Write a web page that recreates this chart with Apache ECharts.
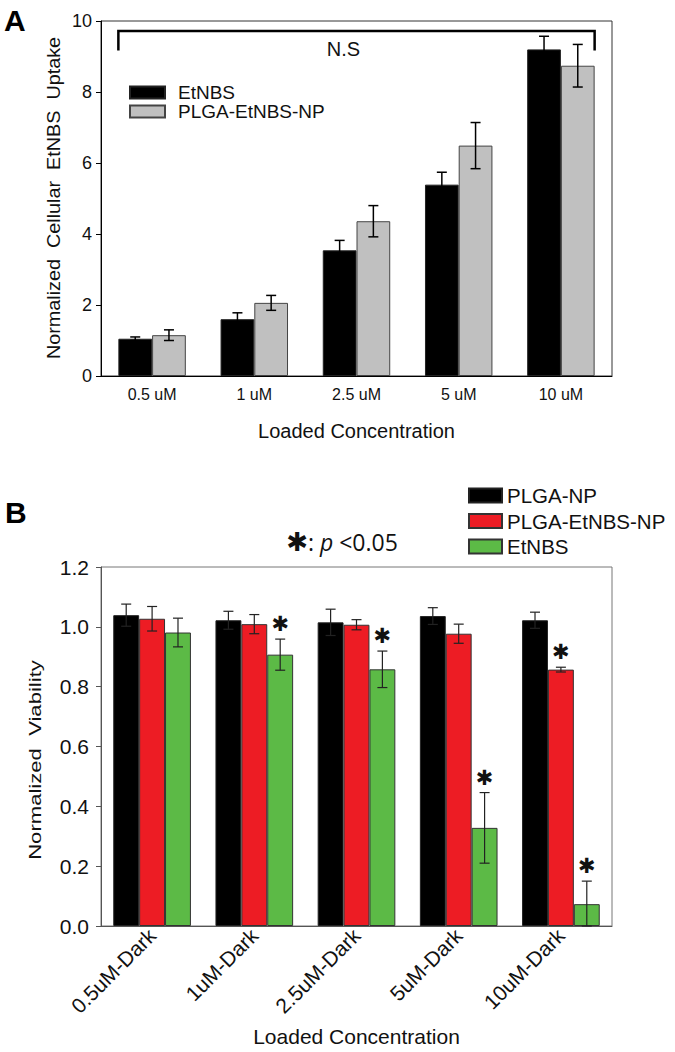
<!DOCTYPE html>
<html>
<head>
<meta charset="utf-8">
<script src="https://cdn.jsdelivr.net/npm/echarts@6/dist/echarts.min.js"></script>
<style>
  html, body { margin: 0; padding: 0; background: #fff; }
  #chartA { position: absolute; left: 0; top: 0; width: 675px; height: 470px; }
  #chartB { position: absolute; left: 0; top: 470px; width: 675px; height: 582px; }
</style>
</head>
<body>
<div id="chartA"></div>
<div id="chartB"></div>
<script>
// panel A data
const catsA = ['0.5 uM', '1 uM', '2.5 uM', '5 uM', '10 uM'];
const etnbsA = [1.05, 1.6, 3.54, 5.39, 9.2];
const etnbsAErr = [0.05, 0.18, 0.28, 0.35, 0.37];
const plgaA = [1.15, 2.06, 4.36, 6.49, 8.74];
const plgaAErr = [0.15, 0.21, 0.44, 0.65, 0.6];
// N.S bracket: from category, to category, line level, end level
const nsBracket = [0, 4, 9.72, 9.17];

// panel B data
const catsB = ['0.5uM-Dark', '1uM-Dark', '2.5uM-Dark', '5uM-Dark', '10uM-Dark'];
const plgaNP = [1.039, 1.022, 1.015, 1.036, 1.022];
const plgaNPErr = [0.037, 0.03, 0.044, 0.028, 0.027];
const plgaEtB = [1.027, 1.009, 1.007, 0.977, 0.857];
const plgaEtBErr = [0.041, 0.032, 0.017, 0.032, 0.008];
const etnbsB = [0.981, 0.907, 0.858, 0.328, 0.073];
const etnbsBErr = [0.048, 0.052, 0.061, 0.118, 0.077];
const plgaEtBStar = [0, 0, 0, 0, 1];
const etnbsBStar = [0, 1, 1, 1, 1];

const FONT = 'Liberation Sans, Arial, sans-serif';

// error bar (and optional star) drawn over the k-th bar of n in each category
function errRender(k, n, gap, color, capHalf, lw) {
  return function (params, api) {
    const cat = api.value(0), v = api.value(1), e = api.value(2), star = api.value(3);
    const catW = api.size([1, 0])[0];
    const barW = catW * (1 - gap) / n;
    const base = api.coord([cat, v]);
    const x = base[0] - barW * n / 2 + barW * (k + 0.5);
    const yHi = api.coord([cat, v + e])[1];
    const yLo = api.coord([cat, Math.max(v - e, 0)])[1];
    const st = { stroke: color, lineWidth: lw };
    const children = [
      { type: 'line', shape: { x1: x, y1: yHi, x2: x, y2: yLo }, style: st },
      { type: 'line', shape: { x1: x - capHalf, y1: yHi, x2: x + capHalf, y2: yHi }, style: st },
      { type: 'line', shape: { x1: x - capHalf, y1: yLo, x2: x + capHalf, y2: yLo }, style: st }
    ];
    if (star) {
      children.push({
        type: 'text', x: x, y: yHi - 15,
        style: { text: '✱', font: 'bold 21px DejaVu Sans', fill: '#111', align: 'center', verticalAlign: 'middle' }
      });
    }
    return { type: 'group', children: children };
  };
}

function errData(vals, errs, stars) {
  return vals.map((v, i) => [i, v, errs[i], stars ? stars[i] : 0]);
}

// rotated axis title, stretched along its length like the original figure
function yTitle(text, x, y, size, stretch) {
  return {
    type: 'text', x: x, y: y, rotation: Math.PI / 2, scaleX: stretch,
    style: { text: text, font: size + 'px ' + FONT, fill: '#111', align: 'center', verticalAlign: 'middle' }
  };
}

// ---------------- panel A ----------------
const gapA = 0.34;
const chartA = echarts.init(document.getElementById('chartA'), null, { renderer: 'svg' });
chartA.setOption({
  animation: false,
  textStyle: { fontFamily: FONT },
  grid: { left: 101, top: 21, width: 511, height: 355, show: true, borderColor: '#333', borderWidth: 1 },
  legend: {
    orient: 'vertical', left: 129, top: 83, padding: 0, itemWidth: 35, itemHeight: 12, itemGap: 0,
    icon: 'rect',
    textStyle: { fontSize: 19, lineHeight: 19, color: '#111', padding: [0, 0, 0, 8] },
    data: ['EtNBS', 'PLGA-EtNBS-NP']
  },
  graphic: [
    { type: 'text', left: 4, top: 5, style: { text: 'A', font: 'bold 30px ' + FONT, fill: '#000' } },
    yTitle('Normalized  Cellular  EtNBS  Uptake', 54, 198, 18, 1.1)
  ],
  xAxis: {
    type: 'category', data: catsA,
    axisLine: { lineStyle: { color: '#000' } },
    axisTick: { alignWithLabel: true, length: 5, lineStyle: { color: '#000' } },
    axisLabel: { fontSize: 16, color: '#111', margin: 10 },
    name: 'Loaded Concentration', nameLocation: 'middle', nameGap: 45,
    nameTextStyle: { fontSize: 20, color: '#111' }
  },
  yAxis: {
    type: 'value', min: 0, max: 10, interval: 2,
    splitLine: { show: false },
    axisLine: { show: true, lineStyle: { color: '#000' } },
    axisTick: { show: true, length: 5, lineStyle: { color: '#000' } },
    axisLabel: { fontSize: 18, color: '#111', margin: 9 }
  },
  series: [
    { name: 'EtNBS', type: 'bar', data: etnbsA, barGap: '0%', barCategoryGap: (gapA * 100) + '%',
      itemStyle: { color: '#000', borderColor: '#222', borderWidth: 1 } },
    { name: 'PLGA-EtNBS-NP', type: 'bar', data: plgaA,
      itemStyle: { color: '#c0c0c0', borderColor: '#444', borderWidth: 1 } },
    { name: 'errA0', type: 'custom', z: 10, data: errData(etnbsA, etnbsAErr),
      encode: { x: 0, y: 1 }, renderItem: errRender(0, 2, gapA, '#000', 5, 1.5) },
    { name: 'errA1', type: 'custom', z: 10, data: errData(plgaA, plgaAErr),
      encode: { x: 0, y: 1 }, renderItem: errRender(1, 2, gapA, '#000', 5, 1.5) },
    { name: 'bracket', type: 'custom', z: 10, data: [nsBracket], encode: { x: 0, y: 2 },
      renderItem: function (params, api) {
        const catW = api.size([1, 0])[0];
        const half = catW * (1 - gapA) / 2;
        const l = api.coord([api.value(0), api.value(2)]);
        const r = api.coord([api.value(1), api.value(2)]);
        const yEnd = api.coord([api.value(0), api.value(3)])[1];
        const x1 = l[0] - half, x2 = r[0] + half;
        return {
          type: 'group', children: [
            { type: 'polyline', shape: { points: [[x1, yEnd], [x1, l[1]], [x2, l[1]], [x2, yEnd]] },
              style: { stroke: '#000', lineWidth: 2.5, fill: null } },
            { type: 'text', x: (x1 + x2) / 2 - 13, y: l[1] + 18,
              style: { text: 'N.S', font: '20px ' + FONT, fill: '#111', align: 'center', verticalAlign: 'middle' } }
          ]
        };
      } }
  ]
});

// ---------------- panel B ----------------
const gapB = 0.24;
const chartB = echarts.init(document.getElementById('chartB'), null, { renderer: 'svg' });
chartB.setOption({
  animation: false,
  textStyle: { fontFamily: FONT },
  grid: { left: 101, top: 97, width: 511, height: 360, show: true, borderColor: '#777', borderWidth: 1 },
  legend: {
    orient: 'vertical', left: 468, top: 15, padding: 0, itemWidth: 33, itemHeight: 14, itemGap: 4.5,
    icon: 'rect',
    textStyle: { fontSize: 20.5, lineHeight: 20, color: '#111' },
    data: ['PLGA-NP', 'PLGA-EtNBS-NP', 'EtNBS']
  },
  graphic: [
    { type: 'text', left: 5, top: 27, style: { text: 'B', font: 'bold 30px ' + FONT, fill: '#000' } },
    { type: 'text', x: 342, y: 72,
      style: {
        text: '{s|✱}{t|: }{i|p}{t| <0.05}', align: 'center', verticalAlign: 'middle',
        rich: {
          s: { fontSize: 26, fontFamily: 'DejaVu Sans', fontWeight: 'bold', fill: '#111' },
          t: { fontSize: 23, fontFamily: 'Open Sans', fill: '#111' },
          i: { fontSize: 23, fontFamily: 'Open Sans', fontStyle: 'italic', fill: '#111' }
        }
      } },
    yTitle('Normalized  Viability', 35, 290, 17, 1.3)
  ],
  xAxis: {
    type: 'category', data: catsB,
    axisLine: { lineStyle: { color: '#555' } },
    axisTick: { alignWithLabel: true, length: 5, lineStyle: { color: '#555' } },
    axisLabel: { fontSize: 21, color: '#111', margin: 6, rotate: 45 },
    name: 'Loaded Concentration', nameLocation: 'middle', nameGap: 100,
    nameTextStyle: { fontSize: 21, color: '#111' }
  },
  yAxis: {
    type: 'value', min: 0, max: 1.2, interval: 0.2,
    splitLine: { show: false },
    axisLine: { show: true, lineStyle: { color: '#555' } },
    axisTick: { show: true, length: 5, lineStyle: { color: '#555' } },
    axisLabel: { fontSize: 21, color: '#111', margin: 12, formatter: v => v.toFixed(1) }
  },
  series: [
    { name: 'PLGA-NP', type: 'bar', data: plgaNP, barGap: '0%', barCategoryGap: (gapB * 100) + '%',
      itemStyle: { color: '#000', borderColor: '#222', borderWidth: 1 } },
    { name: 'PLGA-EtNBS-NP', type: 'bar', data: plgaEtB,
      itemStyle: { color: '#ed1c24', borderColor: '#333', borderWidth: 1 } },
    { name: 'EtNBS', type: 'bar', data: etnbsB,
      itemStyle: { color: '#5cba46', borderColor: '#333', borderWidth: 1 } },
    { name: 'errB0', type: 'custom', z: 10, data: errData(plgaNP, plgaNPErr),
      encode: { x: 0, y: 1 }, renderItem: errRender(0, 3, gapB, '#222', 5, 1.2) },
    { name: 'errB1', type: 'custom', z: 10, data: errData(plgaEtB, plgaEtBErr, plgaEtBStar),
      encode: { x: 0, y: 1 }, renderItem: errRender(1, 3, gapB, '#222', 5, 1.2) },
    { name: 'errB2', type: 'custom', z: 10, data: errData(etnbsB, etnbsBErr, etnbsBStar),
      encode: { x: 0, y: 1 }, renderItem: errRender(2, 3, gapB, '#222', 5, 1.2) }
  ]
});
</script>
</body>
</html>
